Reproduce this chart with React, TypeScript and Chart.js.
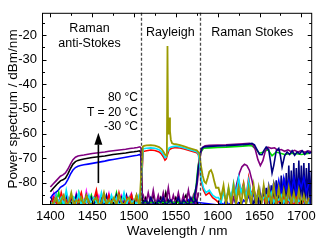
import React, { useEffect, useRef } from 'react';
import { Chart, registerables } from 'chart.js';

Chart.register(...registerables);

const FONT = "'Liberation Sans', Arial, Helvetica, sans-serif";

// ---------- axes / ticks ----------
const xTicks = [1400, 1450, 1500, 1550, 1600, 1650, 1700];
const xMinor = [1425, 1475, 1525, 1575, 1625, 1675];
const yTicks = [-80, -70, -60, -50, -40, -30, -20];
const yMinor = [-85, -75, -65, -55, -45, -35, -25, -15];
const dividers = [1508, 1579];

// ---------- wavelength grids ----------
const asNoiseWl = [1401, 1404, 1407, 1410, 1413, 1416, 1419, 1422, 1425, 1428, 1431, 1434, 1437, 1440, 1443, 1446, 1449, 1452, 1455, 1458, 1461, 1464, 1467, 1470, 1473, 1476, 1479, 1482, 1485, 1488, 1491, 1494, 1497, 1500, 1503, 1506];
const rayNoiseWl = [1511, 1514, 1517, 1520, 1523, 1526, 1529, 1532, 1535, 1538, 1541, 1544, 1547, 1550, 1553, 1556, 1559, 1562, 1565, 1568, 1571, 1574, 1577];
const stNoiseWl = [1601, 1604, 1607, 1610, 1613, 1616, 1619, 1622, 1625, 1628, 1631, 1634, 1637, 1640, 1643, 1646, 1649, 1652, 1655, 1658, 1661, 1664, 1667, 1670, 1673, 1676, 1679, 1682, 1685, 1688, 1691, 1694, 1697, 1700, 1703, 1706, 1709];
const edgeNoiseWl = [1640, 1641.5, 1643, 1644.5, 1646, 1647.5, 1649, 1650.5, 1652, 1653.5, 1655, 1656.5, 1658, 1659.5, 1661, 1662.5, 1664, 1665.5, 1667, 1668.5, 1670, 1671.5, 1673, 1674.5, 1676, 1677.5, 1679, 1680.5, 1682, 1683.5, 1685, 1686.5, 1688, 1689.5, 1691, 1692.5, 1694, 1695.5, 1697, 1698.5, 1700, 1701.5, 1703, 1704.5, 1706, 1707.5, 1709, 1710.5, 1712];

// ---------- Raman anti-Stokes (T = 80, 20, -30 °C) ----------
const asWl = [1400, 1403, 1406, 1409, 1412, 1415, 1418, 1421, 1424, 1427, 1430, 1433, 1436, 1440, 1445, 1450, 1455, 1460, 1465, 1470, 1475, 1480, 1485, 1490, 1495, 1500, 1504, 1507, 1508.5, 1509.5];
const purpleAS = [-81.7, -80.6, -79.5, -78.4, -77.3, -76.8, -76.0, -74.4, -72.4, -70.6, -69.6, -69.1, -68.9, -68.7, -68.4, -68.1, -67.9, -67.7, -67.5, -67.2, -67.0, -66.8, -66.6, -66.4, -66.1, -65.9, -65.7, -65.4, -66, -84];
const blackAS = [-83.6, -82.4, -81.3, -80.2, -79.2, -78.8, -78.1, -76.4, -74.2, -72.4, -71.4, -70.9, -70.6, -70.3, -70.0, -69.7, -69.5, -69.3, -69.1, -68.8, -68.5, -68.3, -68.1, -67.9, -67.6, -67.4, -67.2, -67.0, -68, -86];
const blueAS = [-86.2, -84.8, -84.0, -83.2, -81.8, -81.2, -80.4, -78.6, -76.5, -74.8, -73.8, -73.3, -73.0, -72.7, -72.4, -72.1, -71.8, -71.5, -71.2, -70.8, -70.5, -70.2, -69.9, -69.6, -69.3, -69.0, -68.8, -68.5, -69.5, -87];

// ---------- Rayleigh ----------
const oliveRayWl = [1507, 1509, 1510.5, 1512, 1515, 1520, 1525, 1530, 1533, 1535, 1537, 1538.5, 1539.3, 1540, 1540.7, 1541.5, 1542.3, 1543, 1544, 1545.5, 1548, 1550, 1555, 1560, 1565, 1570, 1575, 1578, 1580, 1582, 1584, 1586, 1588, 1590, 1592, 1594, 1596, 1598];
const oliveRay = [-86, -74, -65.3, -65.0, -64.8, -64.7, -64.9, -65.5, -66.3, -67.3, -68.5, -69.0, -66, -24.5, -60, -57, -53.5, -59, -62.5, -64, -64.3, -64.3, -64.7, -65.2, -65.8, -66.3, -66.8, -68, -73, -77, -79.5, -80.2, -78, -75.5, -74.8, -76.5, -79.5, -82];
const rayWl = [1508, 1509.5, 1511, 1515, 1520, 1525, 1530, 1533, 1535, 1537, 1538.5, 1540, 1542, 1545, 1550, 1555, 1560, 1565, 1570, 1575, 1577, 1578.5, 1580, 1583, 1586, 1590, 1594, 1598];
const cyanRay = [-86, -74, -66.2, -66.0, -65.8, -66.0, -66.6, -67.4, -68.5, -69.8, -69.5, -67.5, -65.8, -65.4, -65.1, -65.4, -65.9, -66.4, -66.9, -67.4, -68.2, -72, -78, -82, -84, -83, -85, -86];
const redRay = [-87, -76, -67.3, -67.0, -66.7, -66.9, -67.5, -68.4, -69.4, -70.8, -70.3, -68.5, -66.6, -66.0, -65.7, -65.9, -66.3, -66.8, -67.3, -67.8, -68.6, -73, -79, -83, -85, -84, -86, -87];

// ---------- Raman Stokes ----------
const navyStWl = [1572, 1575, 1577, 1579, 1581, 1584, 1590, 1600, 1610, 1620, 1630, 1637, 1641, 1644, 1647, 1650, 1653, 1655, 1658, 1661, 1663, 1665, 1667, 1670, 1673, 1675, 1677, 1680, 1683, 1686, 1689, 1692, 1695, 1698, 1701, 1704, 1707, 1710, 1712];
const navySt = [-86, -80, -73, -68, -66, -65.4, -65.2, -65.0, -64.9, -64.7, -64.5, -64.3, -64.0, -64.6, -66.5, -68.5, -68.6, -67.0, -65.5, -66.5, -71, -76, -73, -67, -66, -69, -73.5, -69, -67.5, -68.5, -67, -68.8, -67.5, -68.2, -67, -68.5, -67.3, -68, -67.5];
const purpleStWl = [1573, 1576, 1578, 1580, 1582, 1585, 1590, 1600, 1610, 1620, 1630, 1638, 1642, 1645, 1648, 1651, 1654, 1657, 1660, 1664, 1668, 1672, 1676, 1680, 1684, 1688, 1692, 1696, 1700, 1704, 1708, 1712];
const purpleSt = [-87, -79, -72, -67.5, -65.6, -65.0, -64.8, -64.7, -64.6, -64.4, -64.2, -64.0, -64.5, -66.5, -70.5, -73, -71, -67, -65.5, -66, -65.8, -66.8, -66.5, -67.2, -66.6, -67.4, -66.8, -67.5, -66.9, -67.6, -67, -67.4];
const greenStWl = [1570, 1574, 1576, 1578, 1580, 1583, 1590, 1600, 1610, 1620, 1630, 1640, 1645, 1650, 1655, 1660, 1665, 1670, 1680, 1690, 1700, 1710];
const greenSt = [-88, -82, -75, -70, -67.5, -66, -65.8, -65.6, -65.5, -65.3, -65.1, -64.8, -66, -68, -67.5, -66.5, -69, -67.5, -68.5, -68, -68.5, -68];
const archWl = [1617, 1620, 1623, 1626, 1629, 1632, 1635, 1638, 1641, 1644, 1647];
const archSt = [-89, -85, -80, -76, -73.5, -72.5, -73, -75, -79, -84, -89];

// ---------- noise floors ----------
const oliveNoiseAS = [-89, -88, -86, -89, -87, -85, -89, -88, -84, -89, -87, -88, -86, -89, -85, -88, -89, -87, -86, -89, -88, -84, -89, -87, -88, -86, -89, -85, -88, -89, -87, -86, -89, -88, -85, -89];
const cyanNoiseAS = [-88, -89, -85, -88, -86, -89, -83, -88, -89, -86, -88, -84, -89, -87, -88, -85, -89, -86, -88, -89, -84, -88, -87, -89, -85, -88, -86, -89, -88, -84, -89, -86, -88, -87, -89, -85];
const redNoiseAS = [-89, -86, -88, -89, -84, -88, -87, -89, -85, -88, -89, -87, -84, -89, -88, -86, -89, -87, -83, -89, -88, -86, -89, -85, -88, -87, -89, -84, -88, -89, -86, -88, -85, -89, -87, -88];
const navyNoiseAS = [-86, -89, -85, -89, -86, -89, -85, -89, -86, -89, -85, -89, -86, -89, -85, -89, -86, -89, -85, -89, -86, -89, -85, -89, -86, -89, -85, -89, -86, -89, -85, -89, -86, -89, -85, -89];
const greenNoiseAS = [-89, -86, -88, -84, -89, -87, -85, -89, -88, -86, -89, -84, -88, -89, -86, -88, -85, -89, -87, -88, -89, -85, -88, -86, -89, -88, -84, -89, -87, -86, -89, -88, -85, -89, -86, -88];
const magentaNoiseAS = [-88, -84, -89, -87, -88, -85, -89, -86, -88, -89, -84, -88, -87, -89, -83, -88, -89, -86, -88, -85, -89, -87, -88, -84, -89, -88, -86, -89, -85, -88, -89, -86, -84, -89, -88, -87];
const purpleNoiseRay = [-85, -89, -84, -89, -83, -89, -85, -89, -84, -89, -82, -89, -85, -89, -84, -89, -85, -89, -83, -89, -85, -89, -84];
const blackNoiseRay = [-88, -86, -89, -87, -85, -89, -88, -86, -89, -84, -88, -87, -89, -86, -88, -89, -87, -85, -89, -88, -86, -89, -84];
const blueNoiseRay = [-89, -88, -89, -87, -89, -88, -89, -86, -88, -89, -87, -89, -88, -89, -86, -89, -88, -89, -87, -89, -88, -89, -88];
const navyNoiseRay = [-88, -87, -89, -86, -88, -89, -87, -88, -86, -89, -88, -87, -89, -88, -86, -89, -87, -88, -89, -86, -88, -87, -89];
const oliveNoiseSt = [-82, -86, -81, -89, -82, -89, -81, -89, -82, -89, -81, -89, -82, -89, -81, -89, -82, -89, -81, -89, -82, -89, -81, -89, -82, -89, -83, -89, -82, -89, -84, -89, -83, -89, -85, -89, -86];
const cyanNoiseSt = [-86, -88, -84, -87, -82, -86, -80, -85, -78, -84, -81, -86, -79, -85, -83, -87, -84, -88, -86, -85, -87, -84, -88, -86, -87, -85, -88, -86, -87, -88, -86, -89, -87, -88, -86, -89, -88];
const redNoiseSt = [-88, -86, -84, -87, -83, -86, -82, -85, -79, -84, -80, -86, -78, -85, -82, -87, -84, -88, -86, -89, -85, -88, -86, -89, -87, -88, -86, -89, -87, -88, -89, -86, -88, -89, -87, -88, -89];
const blueNoiseSt = [-89, -88, -89, -87, -89, -88, -86, -89, -88, -89, -87, -88, -85, -89, -84, -88, -83, -87, -82, -88, -81, -86, -80, -84, -79, -85, -78, -83, -79, -84, -78, -85, -79, -82, -78, -84, -80];
const navyNoiseEdge = [-89, -87, -89, -86, -89, -85, -89, -84, -89, -86, -83, -89, -82, -89, -84, -89, -81, -89, -80, -89, -79, -89, -82, -89, -77, -89, -78, -89, -76, -89, -73, -89, -75, -89, -72, -89, -74, -89, -71, -89, -73, -89, -72, -89, -74, -89, -72, -89, -75];

type P = { x: number; y: number };
const pts = (wl: number[], v: number[]): P[] => wl.map((w, i) => ({ x: w, y: v[i] }));
const join = (...parts: P[][]): P[] => ([] as P[]).concat(...parts);

// annotation anchors in data coordinates
const labels = [
  { text: 'Raman', wl: 1446.8, v: -18.8, align: 'center', size: 12.5 },
  { text: 'anti-Stokes', wl: 1446.8, v: -25.0, align: 'center', size: 12.5 },
  { text: 'Rayleigh', wl: 1543.5, v: -20.6, align: 'center', size: 12.5 },
  { text: 'Raman Stokes', wl: 1641.2, v: -20.6, align: 'center', size: 12.5 },
  { text: '80 °C', wl: 1504.8, v: -46.9, align: 'right', size: 12 },
  { text: 'T = 20 °C', wl: 1504.8, v: -52.7, align: 'right', size: 12 },
  { text: '-30 °C', wl: 1504.8, v: -58.4, align: 'right', size: 12 },
];
const arrow = { wl: 1457.4, from: -80.1, to: -59.7, headBase: -64.5 };

const overlay = {
  id: 'overlay',
  afterDatasetsDraw(chart: any) {
    const { ctx, chartArea: a } = chart;
    const xs = chart.scales.x;
    const ys = chart.scales.y;
    ctx.save();
    ctx.strokeStyle = '#4a4a4a';
    ctx.lineWidth = 1.3;
    ctx.setLineDash([3, 2]);
    dividers.forEach((w) => {
      const px = Math.round(xs.getPixelForValue(w)) + 0.5;
      ctx.beginPath();
      ctx.moveTo(px, a.top);
      ctx.lineTo(px, a.bottom);
      ctx.stroke();
    });
    ctx.setLineDash([]);
    ctx.strokeStyle = '#000';
    ctx.lineWidth = 1;
    const L = a.left + 0.5, R = a.right - 0.5, T = a.top + 0.5, B = a.bottom - 0.5;
    ctx.strokeRect(L, T, R - L, B - T);
    ctx.beginPath();
    const yt = (v: number, len: number) => {
      const py = Math.round(ys.getPixelForValue(v)) + 0.5;
      ctx.moveTo(L, py); ctx.lineTo(L + len, py);
      ctx.moveTo(R, py); ctx.lineTo(R - len, py);
    };
    const xt = (v: number, len: number) => {
      const px = Math.round(xs.getPixelForValue(v)) + 0.5;
      ctx.moveTo(px, B); ctx.lineTo(px, B - len);
      ctx.moveTo(px, T); ctx.lineTo(px, T + len);
    };
    yTicks.forEach((v) => yt(v, 4));
    yMinor.forEach((v) => yt(v, 2.5));
    xTicks.forEach((v) => xt(v, 4));
    xMinor.forEach((v) => xt(v, 2.5));
    ctx.stroke();
    ctx.fillStyle = '#000';
    ctx.textBaseline = 'alphabetic';
    labels.forEach((l) => {
      ctx.font = `${l.size}px ${FONT}`;
      ctx.textAlign = l.align;
      ctx.fillText(l.text, xs.getPixelForValue(l.wl), ys.getPixelForValue(l.v));
    });
    const ax = xs.getPixelForValue(arrow.wl);
    const y0 = ys.getPixelForValue(arrow.from);
    const y1 = ys.getPixelForValue(arrow.to);
    const yh = ys.getPixelForValue(arrow.headBase);
    ctx.lineWidth = 1.6;
    ctx.beginPath();
    ctx.moveTo(ax, y0);
    ctx.lineTo(ax, yh);
    ctx.stroke();
    ctx.beginPath();
    ctx.moveTo(ax, y1);
    ctx.lineTo(ax - 4, yh);
    ctx.lineTo(ax + 4, yh);
    ctx.closePath();
    ctx.fill();
    ctx.restore();
  },
};

export default function App() {
  const ref = useRef<HTMLCanvasElement>(null);
  useEffect(() => {
    const ds = (label: string, color: string, width: number, data: P[]) => ({
      label, data, borderColor: color, backgroundColor: color, borderWidth: width,
      pointRadius: 0, tension: 0, fill: false, clip: 0,
    });
    const datasets = [
      ds('Rayleigh olive', '#9a9a00', 1.8, join(pts(asNoiseWl, oliveNoiseAS), pts(oliveRayWl, oliveRay), pts(stNoiseWl, oliveNoiseSt))),
      ds('Rayleigh cyan', '#00e5ff', 1.6, join(pts(asNoiseWl, cyanNoiseAS), pts(rayWl, cyanRay), pts(stNoiseWl, cyanNoiseSt))),
      ds('Rayleigh red', '#ff0000', 1.6, join(pts(asNoiseWl, redNoiseAS), pts(rayWl, redRay), pts(stNoiseWl, redNoiseSt))),
      ds('Stokes navy', '#000080', 1.6, join(pts(asNoiseWl, navyNoiseAS), pts(rayNoiseWl, navyNoiseRay), pts(navyStWl, navySt))),
      ds('Stokes purple', '#800080', 1.6, pts(purpleStWl, purpleSt)),
      ds('Stokes green', '#00dd00', 1.6, join(pts(asNoiseWl, greenNoiseAS), pts(greenStWl, greenSt))),
      ds('Stokes arch', '#800080', 1.6, pts(archWl, archSt)),
      ds('AS 80', '#800080', 1.6, join(pts(asWl, purpleAS), pts(rayNoiseWl, purpleNoiseRay))),
      ds('AS 20', '#000000', 1.6, join(pts(asWl, blackAS), pts(rayNoiseWl, blackNoiseRay))),
      ds('AS -30', '#0000ff', 1.6, join(pts(asWl, blueAS), pts(rayNoiseWl, blueNoiseRay), pts(stNoiseWl, blueNoiseSt))),
      ds('magenta', '#ff00ff', 1.2, pts(asNoiseWl, magentaNoiseAS)),
      ds('navy noise', '#000080', 1.6, pts(edgeNoiseWl, navyNoiseEdge)),
    ];
    const chart = new Chart(ref.current as HTMLCanvasElement, {
      type: 'line',
      data: { datasets },
      options: {
        animation: false,
        responsive: true,
        maintainAspectRatio: false,
        events: [],
        layout: { padding: { top: 1, right: 5, left: 0, bottom: 0 } },
        plugins: { legend: { display: false }, tooltip: { enabled: false } },
        scales: {
          x: {
            type: 'linear', min: 1390, max: 1713,
            grid: { display: false, drawTicks: false },
            border: { display: false },
            ticks: { font: { family: FONT, size: 13 }, color: '#000', padding: 4, maxRotation: 0, autoSkip: false, callback: (v: any) => String(v) },
            afterBuildTicks: (s: any) => { s.ticks = xTicks.map((v) => ({ value: v })); },
            afterFit: (s: any) => { s.height = 35; },
            title: { display: true, text: 'Wavelength / nm', font: { family: FONT, size: 13.5 }, color: '#000', padding: { top: 0, bottom: 1 } },
          },
          y: {
            type: 'linear', min: -89, max: -11,
            grid: { display: false, drawTicks: false },
            border: { display: false },
            ticks: { font: { family: FONT, size: 13 }, color: '#000', padding: 5, autoSkip: false, callback: (v: any) => String(v) },
            afterBuildTicks: (s: any) => { s.ticks = yTicks.map((v) => ({ value: v })); },
            afterFit: (s: any) => { s.width = 42; },
            title: { display: true, text: 'Power spectrum / dBm/nm', font: { family: FONT, size: 13.5 }, color: '#000', padding: { top: 5, bottom: 0 } },
          },
        },
      } as any,
      plugins: [overlay as any],
    });
    return () => chart.destroy();
  }, []);
  return (
    <div style={{ position: 'absolute', left: 0, top: 0, width: 320, height: 240 }}>
      <canvas ref={ref} />
    </div>
  );
}
